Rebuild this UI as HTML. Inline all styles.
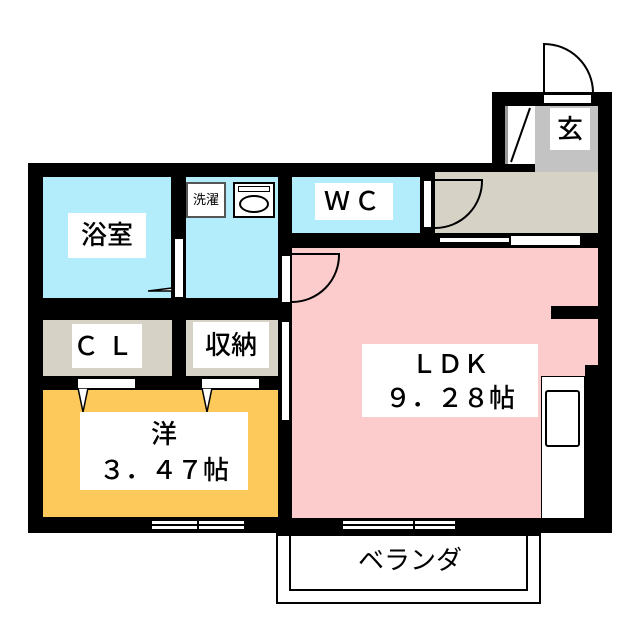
<!DOCTYPE html>
<html><head><meta charset="utf-8"><style>
body{margin:0;background:#fff;}
#c{position:relative;width:640px;height:640px;overflow:hidden;background:#fff;font-family:"Liberation Sans","Noto Sans CJK JP",sans-serif;}
#c div{position:absolute;box-sizing:border-box;}
.k{background:#000;}
.w{background:#fff;}
.lbl{background:#fff;color:#000;text-align:center;white-space:nowrap;font-weight:500;}
</style></head><body><div id="c">
<div class="k" style="left:28px;top:163px;width:512px;height:370px"></div>
<div class="k" style="left:492px;top:92px;width:120px;height:441px"></div>
<div style="left:43px;top:177px;width:128px;height:121px;background:#b3ecfa"></div>
<div style="left:186px;top:177px;width:92px;height:121px;background:#b3ecfa"></div>
<div style="left:43px;top:320px;width:129px;height:56px;background:#d6d3c6"></div>
<div style="left:186px;top:320px;width:92px;height:56px;background:#d6d3c6"></div>
<div style="left:43px;top:390px;width:235px;height:127px;background:#fdc95a"></div>
<div style="left:292px;top:177px;width:128px;height:56px;background:#b3ecfa"></div>
<div style="left:435px;top:172px;width:163px;height:61px;background:#d6d3c6"></div>
<div style="left:535px;top:106px;width:63px;height:66px;background:#c3c3c3"></div>
<div style="left:292px;top:248px;width:306px;height:270px;background:#fccbcb"></div>
<div class="k" style="left:551px;top:306px;width:47px;height:13px"></div>
<div class="k" style="left:585px;top:365px;width:27px;height:153px"></div>
<div class="w" style="left:541px;top:376px;width:44px;height:142px;border:1px solid #000;border-bottom:none"></div>
<div style="left:545px;top:390px;width:35px;height:57px;border:2px solid #000;border-radius:3px;background:#fff"></div>
<div style="left:505px;top:106px;width:30px;height:58px;background:#fff;border-left:3px solid #999"></div>
<svg style="position:absolute;left:0;top:0" width="640" height="640">
<line x1="530" y1="108" x2="511" y2="162" stroke="#000" stroke-width="2"/>
<path d="M544 92 L544 44 A49 49 0 0 1 593 92" fill="none" stroke="#000" stroke-width="2"/>
<path d="M435 180 L482 180 A47 47 0 0 1 435 228" fill="none" stroke="#000" stroke-width="2"/>
<path d="M292 254 L339 254 A47 47 0 0 1 292 302" fill="none" stroke="#000" stroke-width="2"/>
<path d="M172 291 L148 291 L172 288 Z" fill="#fff" stroke="#000" stroke-width="1.5"/>
<path d="M78 388 L88 388 L83 412 Z" fill="#fff" stroke="#000" stroke-width="1.5"/>
<path d="M202 388 L212 388 L207 412 Z" fill="#fff" stroke="#000" stroke-width="1.5"/>
</svg>
<div class="w" style="left:544px;top:95px;width:47px;height:8px"></div>
<div class="w" style="left:423px;top:180px;width:9px;height:48px;border:1px solid #000"></div>
<div class="w" style="left:440px;top:238px;width:69px;height:4px"></div>
<div class="w" style="left:511px;top:236px;width:69px;height:9px"></div>
<div class="w" style="left:282px;top:256px;width:8px;height:46px"></div>
<div class="w" style="left:282px;top:322px;width:7px;height:98px"></div>
<div class="w" style="left:175px;top:239px;width:8px;height:58px"></div>
<div class="w" style="left:78px;top:379px;width:57px;height:9px"></div>
<div class="w" style="left:202px;top:379px;width:57px;height:9px"></div>
<div style="left:152px;top:521px;width:92px;height:8px;background:#fff;"><div class="k" style="left:0;top:3px;width:92px;height:2px"></div><div class="k" style="left:45px;top:-3px;width:2px;height:12px"></div></div>
<div style="left:343px;top:521px;width:112px;height:8px;background:#fff;"><div class="k" style="left:0;top:3px;width:112px;height:2px"></div><div class="k" style="left:70px;top:-3px;width:2px;height:12px"></div></div>
<div style="left:276px;top:532px;width:265px;height:72px;border:2px solid #000;border-top:none;background:#fff"></div>
<div style="left:289px;top:532px;width:239px;height:59px;border:2px solid #000;border-top:none;background:#fff"></div>
<div style="left:276px;top:532px;width:265px;height:4px;background:#000;"></div>
<div style="left:186px;top:182px;width:40px;height:36px;border:2px solid #555;background:#fff;font-size:13px;line-height:32px;text-align:center">洗濯</div>
<div style="left:233px;top:182px;width:42px;height:36px;border:2px solid #000;background:#fff"><div style="left:3px;top:2px;width:32px;height:6px;border:1px solid #000"></div><div style="left:4px;top:11px;width:30px;height:18px;border:2px solid #000;border-radius:50%"></div></div>
<div class="lbl" style="left:68px;top:213px;width:78px;height:45px;font-size:26px;line-height:45px">浴室</div>
<div class="lbl" style="left:72px;top:324px;width:70px;height:44px;font-size:26px;line-height:44px;letter-spacing:8px">ＣＬ</div>
<div class="lbl" style="left:193px;top:322px;width:76px;height:46px;font-size:26px;line-height:46px">収納</div>
<div class="lbl" style="left:315px;top:183px;width:78px;height:37px;font-size:26px;line-height:37px;letter-spacing:4px">ＷＣ</div>
<div class="lbl" style="left:550px;top:108px;width:40px;height:42px;font-size:26px;line-height:42px">玄</div>
<div class="lbl" style="left:80px;top:412px;width:168px;height:78px;font-size:26px;line-height:36px;padding-top:4px">洋<br>３．４７帖</div>
<div class="lbl" style="left:362px;top:344px;width:176px;height:73px;font-size:26px;line-height:34px;padding-top:3px">ＬＤＫ<br>９．２８帖</div>
<div style="left:300px;top:540px;width:220px;height:40px;font-size:26px;line-height:40px;text-align:center">ベランダ</div>
</div></body></html>
